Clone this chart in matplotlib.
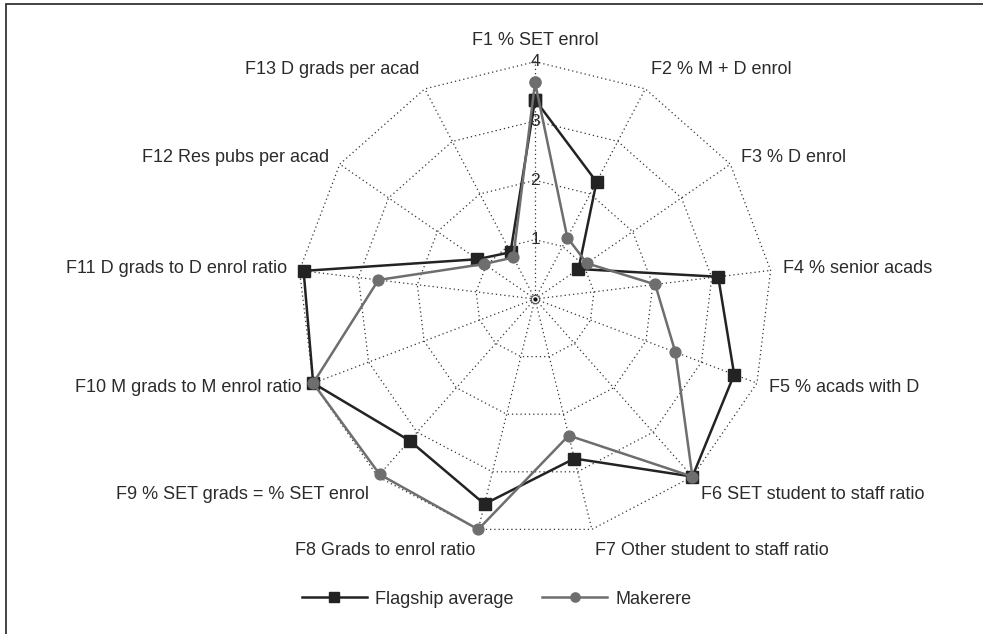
import numpy as np
import matplotlib
matplotlib.use("Agg")
import matplotlib.pyplot as plt
from matplotlib.patches import Rectangle

plt.rcParams['font.family'] = ['Liberation Sans', 'DejaVu Sans']

# indicator names, clockwise from the top
indicators = [
    "F1 % SET enrol",
    "F2 % M + D enrol",
    "F3 % D enrol",
    "F4 % senior acads",
    "F5 % acads with D",
    "F6 SET student to staff ratio",
    "F7 Other student to staff ratio",
    "F8 Grads to enrol ratio",
    "F9 % SET grads = % SET enrol",
    "F10 M grads to M enrol ratio",
    "F11 D grads to D enrol ratio",
    "F12 Res pubs per acad",
    "F13 D grads per acad",
]
flagship = [3.36, 2.23, 0.89, 3.11, 3.59, 4.0, 2.77, 3.56, 3.19, 4.0, 3.93, 1.18, 0.89]
makerere = [3.65, 1.17, 1.06, 2.04, 2.53, 4.0, 2.37, 4.0, 3.95, 4.0, 2.66, 1.04, 0.79]
rings = [1, 2, 3, 4]

n = len(indicators)
angles = np.linspace(0, 2 * np.pi, n, endpoint=False)
closed = np.append(angles, angles[0])
txt = "#2b2b2b"

fig = plt.figure(figsize=(9.83, 6.34), dpi=100)
fig.patches.append(Rectangle((6 / 983, -0.05), 1.1, 1 - 4 / 634 + 0.05,
                             transform=fig.transFigure, fill=False,
                             edgecolor="#222222", linewidth=1.2))

ax = fig.add_axes([0.3029, 0.1541, 0.4828, 0.7486], projection="polar")
ax.set_theta_zero_location("N")
ax.set_theta_direction(-1)
ax.set_ylim(0, 4)
ax.grid(False)
ax.spines["polar"].set_visible(False)
ax.set_xticks([])
ax.set_yticks([])
ax.patch.set_alpha(0)

# polygon grid + spokes
for r in rings:
    ax.plot(closed, [r] * (n + 1), color="#333333", linestyle=(0, (1, 2.4)),
            linewidth=0.9, clip_on=False)
for a in angles:
    ax.plot([a, a], [0, 4], color="#333333", linestyle=(0, (1, 2.4)),
            linewidth=0.9, clip_on=False)
ax.plot([0], [0], marker="o", markersize=6, markerfacecolor="none",
        markeredgecolor="#555555", markeredgewidth=0.8)
ax.plot([0], [0], marker="o", markersize=2, color="#111111")

for r in rings:
    ax.text(0, r, str(r), ha="center", va="center", fontsize=12.5, color=txt)

ax.plot(closed, flagship + flagship[:1], color="#232323", linewidth=1.8,
        marker="s", markersize=8, clip_on=False, label="Flagship average", zorder=3)
ax.plot(closed, makerere + makerere[:1], color="#6e6e6e", linewidth=1.8,
        marker="o", markersize=7.8, clip_on=False, label="Makerere", zorder=4)

# category labels around the outside
for a, name in zip(angles, indicators):
    s, c = np.sin(a), np.cos(a)
    ha = "left" if s > 0.1 else ("right" if s < -0.1 else "center")
    va = "bottom" if c > 0.7 else ("top" if c < -0.7 else "center")
    ax.annotate(name, xy=(a, 4), xytext=(9 * s, 9 * c), textcoords="offset points",
                ha=ha, va=va, fontsize=13, color=txt, annotation_clip=False)

fig.legend(loc="center", bbox_to_anchor=(0.505, 1 - 599 / 634), ncol=2, frameon=False,
           fontsize=13, handlelength=3.6, handletextpad=0.45, columnspacing=1.6,
           labelcolor=txt, markerscale=0.85)

fig.savefig("out.png", dpi=100)
